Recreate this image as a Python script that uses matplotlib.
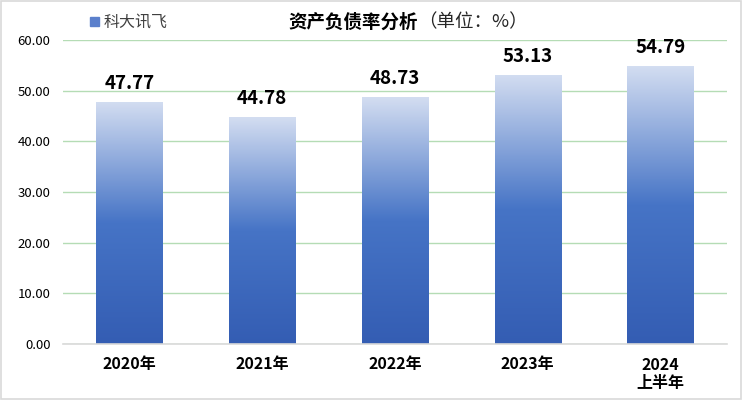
import numpy as np
import matplotlib.pyplot as plt
from matplotlib.colors import LinearSegmentedColormap
from matplotlib.patches import Rectangle

plt.rcParams['font.family'] = ['Noto Sans CJK SC', 'DejaVu Sans']

categories = ['2020年', '2021年', '2022年', '2023年', '2024\n上半年']
values = [47.77, 44.78, 48.73, 53.13, 54.79]
series_name = '科大讯飞'
title_main = '资产负债率分析'
title_unit = '（单位：%）'

cmap = LinearSegmentedColormap.from_list(
    'bar', [(0.0, '#345db3'), (0.5, '#4674c6'), (1.0, '#d3ddf1')])


def main():
    fig = plt.figure(figsize=(7.42, 4.0), dpi=100)
    fig.patch.set_facecolor('white')
    fig.patches.append(Rectangle((0.001, 0.002), 0.997, 0.996, transform=fig.transFigure,
                                 fill=False, edgecolor='#d9d9d9', linewidth=1.2))

    ax = fig.add_axes([63 / 742, 56 / 400, 664 / 742, 304 / 400])
    x = np.arange(len(categories))
    bars = ax.bar(x, values, width=0.5, color='none', edgecolor='none', zorder=3)

    grad = np.linspace(0, 1, 256).reshape(-1, 1)
    for b in bars:
        x0, y0 = b.get_x(), b.get_y()
        w, h = b.get_width(), b.get_height()
        im = ax.imshow(grad, cmap=cmap, origin='lower', aspect='auto',
                       extent=(x0, x0 + w, y0, y0 + h), zorder=3)
        im.set_clip_path(b)

    for xi, v in zip(x, values):
        ax.text(xi, v + 1.8, f'{v:.2f}', ha='center', va='bottom',
                fontsize=13.5, fontweight='bold', color='black', zorder=4)

    ax.set_xlim(-0.5, len(categories) - 0.5)
    ax.set_ylim(0, 60)
    ax.set_yticks(np.arange(0, 61, 10))
    ax.set_yticklabels([f'{t:.2f}' for t in np.arange(0, 61, 10)], fontsize=9.5)
    ax.set_xticks(x)
    ax.set_xticklabels(categories, fontsize=11.5, fontweight='bold', linespacing=1.2)
    ax.tick_params(axis='both', length=0)
    ax.tick_params(axis='y', pad=9)
    ax.tick_params(axis='x', pad=9)

    ax.grid(axis='y', color='#b5dcb5', linewidth=1, zorder=0)
    ax.set_axisbelow(True)
    for s in ['top', 'right', 'left']:
        ax.spines[s].set_visible(False)
    ax.spines['bottom'].set_color('#d9d9d9')
    ax.spines['bottom'].set_linewidth(1.2)
    ax.spines['bottom'].set_zorder(5)

    ty = 1 - 22 / 400
    fig.text(418 / 742, ty, title_main, ha='right', va='center',
             fontsize=13.3, fontweight='bold')
    fig.text(418 / 742, ty, title_unit, ha='left', va='center',
             fontsize=13.3, color='#262626')
    fig.patches.append(Rectangle((90 / 742, 1 - 26 / 400), 9 / 742, 9 / 400,
                                 transform=fig.transFigure, color='#5b80cc'))
    fig.text(104 / 742, 1 - 22 / 400, series_name, ha='left', va='center',
             fontsize=11.5, color='#404040')

    fig.savefig('out.png', dpi=100)


if __name__ == '__main__':
    main()
